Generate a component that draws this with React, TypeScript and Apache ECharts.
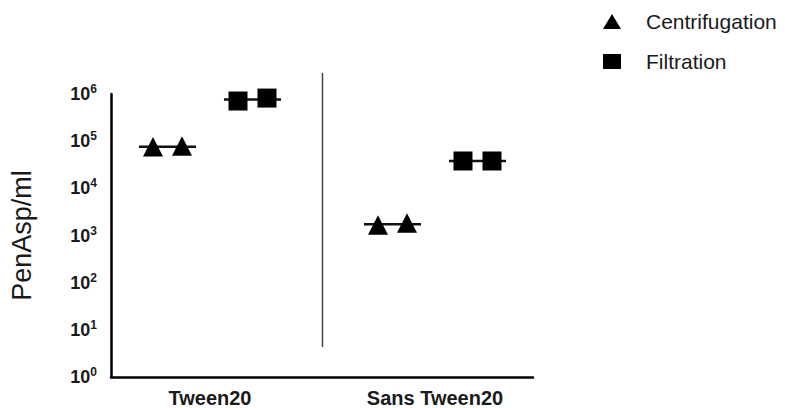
import React, { useEffect, useRef } from "react";
import * as echarts from "echarts";

const categories = ["Tween20", "Sans Tween20"];
// replicate values (PenAsp/ml), two replicates per condition
const centrifugation = [
  [7.5e4, 7.8e4],
  [1.64e3, 1.82e3],
];
const filtration = [
  [7.1e5, 8.2e5],
  [3.8e4, 3.8e4],
];
const yMin = 1;
const yMax = 1e6;

const FONT = "'Liberation Sans', Arial, Helvetica, sans-serif";

function makeRender(shift: number, kind: "triangle" | "square") {
  return (params: any, api: any) => {
    const i = api.value(0);
    const a = api.value(1);
    const b = api.value(2);
    const mean = Math.sqrt(a * b);
    const c = api.coord([i, mean]);
    const pa = api.coord([i, a]);
    const pb = api.coord([i, b]);
    const gx = c[0] + shift;
    const reps = [
      [gx - 14.5, pa[1]],
      [gx + 14.5, pb[1]],
    ];
    const children: any[] = [
      {
        type: "line",
        shape: { x1: gx - 28.5, y1: c[1], x2: gx + 28.5, y2: c[1] },
        style: { stroke: "#111", lineWidth: 2.5 },
      },
    ];
    reps.forEach(([x, y]) => {
      if (kind === "triangle") {
        children.push({
          type: "polygon",
          shape: {
            points: [
              [x, y - 10],
              [x + 10, y + 9.5],
              [x - 10, y + 9.5],
            ],
          },
          style: { fill: "#000" },
        });
      } else {
        children.push({
          type: "rect",
          shape: { x: x - 9.5, y: y - 9.5, width: 19, height: 19 },
          style: { fill: "#000" },
        });
      }
    });
    return { type: "group", children };
  };
}

export default function App() {
  const ref = useRef<HTMLDivElement>(null);
  useEffect(() => {
    if (!ref.current) return;
    const chart = echarts.init(ref.current, undefined, { renderer: "svg" });
    const option: any = {
      animation: false,
      backgroundColor: "#fff",
      grid: { left: 111, right: 252, top: 94, bottom: 31, containLabel: false },
      legend: {
        orient: "vertical",
        left: 598,
        top: 6,
        itemWidth: 18,
        itemHeight: 15,
        itemGap: 19,
        textStyle: {
          fontFamily: FONT,
          fontSize: 21,
          color: "#1a1a1a",
          padding: [0, 0, 0, 20],
        },
        data: [
          { name: "Centrifugation", icon: "triangle" },
          { name: "Filtration", icon: "rect" },
        ],
      },
      xAxis: {
        type: "value",
        min: -0.44,
        max: 1.4356,
        splitLine: { show: false },
        axisTick: { show: false },
        axisLine: { show: true, onZero: false, lineStyle: { color: "#000", width: 2.5 } },
        axisLabel: {
          customValues: [0, 1],
          formatter: (v: number) => categories[Math.round(v)] ?? "",
          fontFamily: FONT,
          fontSize: 20,
          fontWeight: "bold",
          color: "#1a1a1a",
          margin: 11,
        },
      },
      yAxis: {
        type: "log",
        logBase: 10,
        min: yMin,
        max: yMax,
        name: "PenAsp/ml",
        nameLocation: "middle",
        nameGap: 76,
        nameTextStyle: { fontFamily: FONT, fontSize: 27, color: "#1a1a1a" },
        splitLine: { show: false },
        axisTick: { show: false },
        axisLine: { show: true, onZero: false, lineStyle: { color: "#000", width: 2.5 } },
        axisLabel: {
          margin: 14,
          formatter: (v: number) => `{b|10}{s|${Math.round(Math.log10(v))}}`,
          rich: {
            b: { fontFamily: FONT, fontSize: 18, fontWeight: "bold", color: "#1a1a1a" },
            s: {
              fontFamily: FONT,
              fontSize: 12,
              fontWeight: "bold",
              color: "#1a1a1a",
              padding: [0, 0, 10, 0],
            },
          },
        },
      },
      series: [
        {
          name: "Centrifugation",
          type: "custom",
          itemStyle: { color: "#000" },
          encode: { x: 0, y: 1 },
          clip: false,
          data: categories.map((_, i) => [i, ...centrifugation[i]]),
          renderItem: makeRender(-42.5, "triangle"),
        },
        {
          name: "Filtration",
          type: "custom",
          itemStyle: { color: "#000" },
          encode: { x: 0, y: 1 },
          clip: false,
          data: categories.map((_, i) => [i, ...filtration[i]]),
          renderItem: makeRender(42.5, "square"),
        },
        {
          name: "divider",
          type: "custom",
          clip: false,
          silent: true,
          data: [[0.5, yMin]],
          encode: { x: 0, y: 1 },
          renderItem: (params: any, api: any) => {
            const top = api.coord([api.value(0), yMax]);
            const bot = api.coord([api.value(0), yMin]);
            return {
              type: "line",
              shape: { x1: top[0], y1: top[1] - 21, x2: bot[0], y2: bot[1] - 30 },
              style: { stroke: "#444", lineWidth: 1.5 },
            };
          },
        },
      ],
    };
    chart.setOption(option);
    return () => chart.dispose();
  }, []);
  return (
    <div
      ref={ref}
      style={{ position: "absolute", left: 0, top: 0, width: 785, height: 408 }}
    />
  );
}
